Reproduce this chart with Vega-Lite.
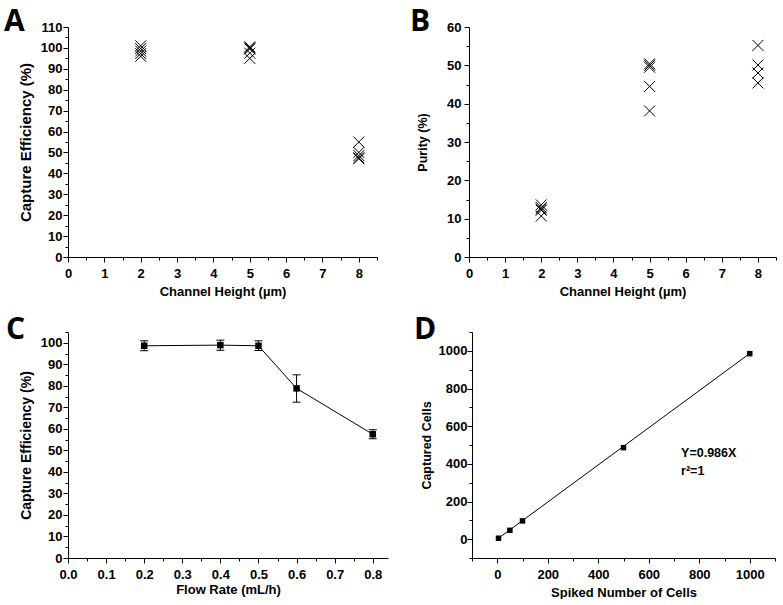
{
  "$schema": "https://vega.github.io/schema/vega-lite/v6.json",
  "padding": {"left": 4, "top": 7, "right": 0, "bottom": 0},
  "background": "white",
  "spacing": 16,
  "vconcat": [
    {
      "spacing": 32,
      "hconcat": [
        {
          "width": 309, "height": 230,
          "title": {"text": "A", "dx": -64, "dy": 20},
          "data": {"values": [
            {"h": 2, "v": 101}, {"h": 2, "v": 99.7}, {"h": 2, "v": 98.5}, {"h": 2, "v": 97.3}, {"h": 2, "v": 96},
            {"h": 5, "v": 100.5}, {"h": 5, "v": 100}, {"h": 5, "v": 99.5}, {"h": 5, "v": 97.5}, {"h": 5, "v": 95},
            {"h": 8, "v": 55}, {"h": 8, "v": 50}, {"h": 8, "v": 48.5}, {"h": 8, "v": 47.5}, {"h": 8, "v": 47}
          ]},
          "layer": [
            {
              "mark": {"type": "point", "shape": "M-1,-1L1,1M-1,1L1,-1", "filled": false, "color": "black", "strokeWidth": 1, "size": 120, "opacity": 1},
              "encoding": {
                "x": {"field": "h", "type": "quantitative", "scale": {"domain": [0, 8.5], "nice": false, "zero": false},
                      "axis": {"values": [0, 1, 2, 3, 4, 5, 6, 7, 8], "title": "Channel Height (µm)"}},
                "y": {"field": "v", "type": "quantitative", "scale": {"domain": [0, 110], "nice": false},
                      "axis": {"values": [0, 10, 20, 30, 40, 50, 60, 70, 80, 90, 100, 110], "title": "Capture Efficiency (%)", "titleFontSize": 15, "labelPadding": 1, "titlePadding": 7}}
              }
            },
            {
              "mark": {"type": "point", "opacity": 0},
              "encoding": {
                "x": {"field": "h", "type": "quantitative",
                      "axis": {"values": [0.5, 1.5, 2.5, 3.5, 4.5, 5.5, 6.5, 7.5, 8.5], "orient": "bottom", "labels": false, "domain": false, "title": null, "tickSize": 3}},
                "y": {"field": "v", "type": "quantitative",
                      "axis": {"values": [5, 15, 25, 35, 45, 55, 65, 75, 85, 95, 105], "orient": "left", "labels": false, "domain": false, "title": null, "tickSize": 3}}
              }
            }
          ],
          "resolve": {"axis": {"x": "independent", "y": "independent"}}
        },
        {
          "width": 307, "height": 230,
          "title": {"text": "B", "dx": -59, "dy": 20},
          "data": {"values": [
            {"h": 2, "v": 13.6}, {"h": 2, "v": 12.9}, {"h": 2, "v": 12.5}, {"h": 2, "v": 12.2}, {"h": 2, "v": 10.7},
            {"h": 5, "v": 50.4}, {"h": 5, "v": 50}, {"h": 5, "v": 49.5}, {"h": 5, "v": 44.5}, {"h": 5, "v": 38.1},
            {"h": 8, "v": 55.2}, {"h": 8, "v": 50.1}, {"h": 8, "v": 48}, {"h": 8, "v": 45.4}
          ]},
          "layer": [
            {
              "mark": {"type": "point", "shape": "M-1,-1L1,1M-1,1L1,-1", "filled": false, "color": "black", "strokeWidth": 1, "size": 120, "opacity": 1},
              "encoding": {
                "x": {"field": "h", "type": "quantitative", "scale": {"domain": [0, 8.5], "nice": false, "zero": false},
                      "axis": {"values": [0, 1, 2, 3, 4, 5, 6, 7, 8], "title": "Channel Height (µm)"}},
                "y": {"field": "v", "type": "quantitative", "scale": {"domain": [0, 60], "nice": false},
                      "axis": {"values": [0, 10, 20, 30, 40, 50, 60], "title": "Purity (%)", "titleFontSize": 12.5, "labelPadding": 3, "titlePadding": 17}}
              }
            },
            {
              "mark": {"type": "point", "opacity": 0},
              "encoding": {
                "x": {"field": "h", "type": "quantitative",
                      "axis": {"values": [0.5, 1.5, 2.5, 3.5, 4.5, 5.5, 6.5, 7.5, 8.5], "orient": "bottom", "labels": false, "domain": false, "title": null, "tickSize": 3}},
                "y": {"field": "v", "type": "quantitative",
                      "axis": {"values": [5, 15, 25, 35, 45, 55], "orient": "left", "labels": false, "domain": false, "title": null, "tickSize": 3}}
              }
            }
          ],
          "resolve": {"axis": {"x": "independent", "y": "independent"}}
        }
      ]
    },
    {
      "spacing": 26,
      "hconcat": [
        {
          "width": 320, "height": 226,
          "title": {"text": "C", "dx": -62, "dy": 17},
          "data": {"values": [
            {"f": 0.2, "v": 98.6, "lo": 96.3, "hi": 100.9},
            {"f": 0.4, "v": 98.9, "lo": 96.5, "hi": 101.2},
            {"f": 0.5, "v": 98.6, "lo": 96.4, "hi": 100.9},
            {"f": 0.6, "v": 78.8, "lo": 72.4, "hi": 85.1},
            {"f": 0.8, "v": 57.5, "lo": 55.4, "hi": 59.6}
          ]},
          "layer": [
            {
              "mark": {"type": "line", "color": "black", "strokeWidth": 1},
              "encoding": {
                "x": {"field": "f", "type": "quantitative", "scale": {"domain": [0, 0.84], "nice": false, "zero": false},
                      "axis": {"values": [0, 0.1, 0.2, 0.3, 0.4, 0.5, 0.6, 0.7, 0.8], "format": ".1f", "title": "Flow Rate (mL/h)", "titlePadding": 2}},
                "y": {"field": "v", "type": "quantitative", "scale": {"domain": [0, 105], "nice": false},
                      "axis": {"values": [0, 10, 20, 30, 40, 50, 60, 70, 80, 90, 100], "title": "Capture Efficiency (%)", "titleFontSize": 14, "labelPadding": 1, "titlePadding": 7}}
              }
            },
            {
              "mark": {"type": "rule", "color": "black", "strokeWidth": 1},
              "encoding": {
                "x": {"field": "f", "type": "quantitative", "axis": null},
                "y": {"field": "lo", "type": "quantitative", "axis": null},
                "y2": {"field": "hi"}
              }
            },
            {
              "mark": {"type": "tick", "orient": "horizontal", "color": "black", "size": 8, "thickness": 1, "opacity": 1},
              "encoding": {
                "x": {"field": "f", "type": "quantitative", "axis": null},
                "y": {"field": "lo", "type": "quantitative", "axis": null}
              }
            },
            {
              "mark": {"type": "tick", "orient": "horizontal", "color": "black", "size": 8, "thickness": 1, "opacity": 1},
              "encoding": {
                "x": {"field": "f", "type": "quantitative", "axis": null},
                "y": {"field": "hi", "type": "quantitative", "axis": null}
              }
            },
            {
              "mark": {"type": "point", "shape": "square", "filled": true, "color": "black", "size": 42, "opacity": 1},
              "encoding": {
                "x": {"field": "f", "type": "quantitative", "axis": null},
                "y": {"field": "v", "type": "quantitative", "axis": null}
              }
            },
            {
              "mark": {"type": "point", "opacity": 0},
              "encoding": {
                "x": {"field": "f", "type": "quantitative",
                      "axis": {"values": [0.05, 0.15, 0.25, 0.35, 0.45, 0.55, 0.65, 0.75], "orient": "bottom", "labels": false, "domain": false, "title": null, "tickSize": 3}},
                "y": {"field": "v", "type": "quantitative",
                      "axis": {"values": [5, 15, 25, 35, 45, 55, 65, 75, 85, 95, 105], "orient": "left", "labels": false, "domain": false, "title": null, "tickSize": 3}}
              }
            }
          ],
          "resolve": {"axis": {"x": "independent", "y": "independent"}}
        },
        {
          "width": 303, "height": 226,
          "title": {"text": "D", "dx": -58, "dy": 17},
          "data": {"values": [
            {"n": 5, "c": 5, "lo": 1, "hi": 9},
            {"n": 50, "c": 47, "lo": 43, "hi": 51},
            {"n": 100, "c": 97, "lo": 93, "hi": 101},
            {"n": 500, "c": 486, "lo": 478, "hi": 494},
            {"n": 1000, "c": 985, "lo": 977, "hi": 993}
          ]},
          "layer": [
            {
              "data": {"values": [{"n": 5, "c": 4.93}, {"n": 1000, "c": 986}]},
              "mark": {"type": "line", "color": "black", "strokeWidth": 1},
              "encoding": {
                "x": {"field": "n", "type": "quantitative", "scale": {"domain": [-100, 1100], "nice": false, "zero": false},
                      "axis": {"values": [0, 200, 400, 600, 800, 1000], "format": "d", "title": "Spiked Number of Cells"}},
                "y": {"field": "c", "type": "quantitative", "scale": {"domain": [-100, 1100], "nice": false, "zero": false},
                      "axis": {"values": [0, 200, 400, 600, 800, 1000], "format": "d", "title": "Captured Cells", "titleFontSize": 12.5, "labelPadding": 0, "titlePadding": 5}}
              }
            },
            {
              "mark": {"type": "rule", "color": "black", "strokeWidth": 1.5},
              "encoding": {
                "x": {"field": "n", "type": "quantitative", "axis": null},
                "y": {"field": "lo", "type": "quantitative", "axis": null},
                "y2": {"field": "hi"}
              }
            },
            {
              "mark": {"type": "point", "shape": "square", "filled": true, "color": "black", "size": 30, "opacity": 1},
              "encoding": {
                "x": {"field": "n", "type": "quantitative", "axis": null},
                "y": {"field": "c", "type": "quantitative", "axis": null}
              }
            },
            {
              "data": {"values": [{"n": 728, "c": 436, "label": "Y=0.986X"}, {"n": 728, "c": 340, "label": "r²=1"}]},
              "mark": {"type": "text", "align": "left", "baseline": "alphabetic", "font": "Liberation Sans", "fontWeight": "bold", "fontSize": 12.5, "color": "black"},
              "encoding": {
                "x": {"field": "n", "type": "quantitative", "axis": null},
                "y": {"field": "c", "type": "quantitative", "axis": null},
                "text": {"field": "label"}
              }
            },
            {
              "mark": {"type": "point", "opacity": 0},
              "encoding": {
                "x": {"field": "n", "type": "quantitative",
                      "axis": {"values": [-100, 100, 300, 500, 700, 900, 1100], "orient": "bottom", "labels": false, "domain": false, "title": null, "tickSize": 3}},
                "y": {"field": "c", "type": "quantitative",
                      "axis": {"values": [-100, 100, 300, 500, 700, 900, 1100], "orient": "left", "labels": false, "domain": false, "title": null, "tickSize": 3}}
              }
            }
          ],
          "resolve": {"axis": {"x": "independent", "y": "independent"}}
        }
      ]
    }
  ],
  "config": {
    "view": {"stroke": null},
    "axis": {
      "grid": false,
      "domainColor": "black", "domainWidth": 1,
      "tickColor": "black", "tickWidth": 1, "tickSize": 5,
      "labelColor": "black", "labelFont": "Liberation Sans", "labelFontWeight": "bold", "labelFontSize": 13,
      "labelFlush": false, "labelOverlap": false,
      "titleColor": "black", "titleFont": "Liberation Sans", "titleFontWeight": "bold", "titleFontSize": 13
    },
    "axisX": {"labelPadding": 5, "titlePadding": 5},
    "title": {"font": "Open Sans", "fontSize": 30, "fontWeight": "bold", "color": "black", "anchor": "start", "frame": "group", "offset": 0}
  }
}
